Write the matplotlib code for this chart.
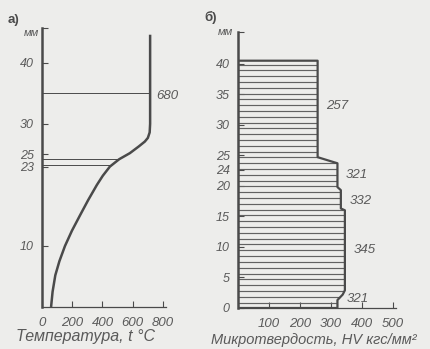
import numpy as np
import matplotlib
matplotlib.use("Agg")
import matplotlib.pyplot as plt

# a) temperature along the depth
depth_t = [0, 2.5, 5.2, 7.5, 10, 12.5, 15, 17.5, 20, 21.5, 23, 24.2, 25.2, 26.3,
           27.1, 27.7, 28.6, 30, 35, 40, 44.6]
temp = [60, 70, 88, 115, 152, 198, 251, 305, 363, 402, 449, 510, 581, 640,
        680, 700, 712, 715, 715, 715, 715]
t_marks = [35, 24.2, 23.2]          # horizontal guide lines, mm
t_label = "680"
t_xticks = [0, 200, 400, 600, 800]
t_yticks = [10, 23, 25, 30, 40]

# b) micro-hardness profile (from bottom up)
depth_hv = [0, 1.3, 2.2, 2.9, 16.0, 16.3, 19.3, 19.8, 23.7, 24.7, 40.5]
hv = [321, 321, 338, 345, 345, 332, 332, 321, 321, 257, 257]
hv_labels = ["257", "321", "332", "345", "321"]
hv_label_y = [33, 21.7, 17.6, 9.5, 1.5]
hv_xticks = [100, 200, 300, 400, 500]
hv_ytick_pos = [0, 5, 10, 15, 20, 22.6, 25, 30, 35, 40]
hv_ytick_lab = ["0", "5", "10", "15", "20", "24", "25", "30", "35", "40"]

bg = "#ededeb"
ink = "#4a4a4a"
txt = "#5a5a5a"
plt.rcParams["font.family"] = ["Liberation Sans", "DejaVu Sans"]

W, H = 431, 349
fig = plt.figure(figsize=(W / 100, H / 100), dpi=100, facecolor=bg)


def px_axes(l, r, b, t):
    return fig.add_axes([l / W, (H - b) / H, (r - l) / W, (b - t) / H])


def style(ax):
    ax.set_facecolor("none")
    for s in ("top", "right"):
        ax.spines[s].set_visible(False)
    ax.spines["left"].set_linewidth(1.8)
    ax.spines["left"].set_color(ink)
    ax.spines["bottom"].set_linewidth(0.9)
    ax.spines["bottom"].set_color(ink)
    ax.tick_params(axis="both", direction="in", colors=ink, labelcolor=txt,
                   labelsize=9.5, length=4, width=0.8)
    ax.tick_params(axis="x", pad=7)
    ax.tick_params(axis="y", pad=6)
    for lab in ax.get_xticklabels() + ax.get_yticklabels():
        lab.set_fontstyle("italic")


# ---- panel a
ax1 = px_axes(42, 166, 307, 28)
ax1.set_xlim(0, 820)
ax1.set_ylim(0, 45.7)
ax1.plot(temp, depth_t, color=ink, lw=1.8, solid_capstyle="butt")
for m in t_marks:
    ax1.hlines(m, 0, np.interp(m, depth_t, temp), color=ink, lw=0.7)
ax1.text(755, 34.6, t_label, fontsize=9.5, color=txt, style="italic", va="center")
ax1.set_xticks(t_xticks)
ax1.set_xticklabels([str(v) for v in t_xticks])
ax1.set_yticks(t_yticks + [45.7])
ax1.set_yticklabels([str(v) for v in t_yticks] + [""])
style(ax1)
for lab in ax1.get_yticklabels():
    lab.set_fontsize(9)

# ---- panel b
ax2 = px_axes(238, 396, 308, 32)
ax2.set_xlim(0, 510)
ax2.set_ylim(0, 45.2)
for y in np.arange(0.9, 40.5, 0.95):
    ax2.hlines(y, 0, np.interp(y, depth_hv, hv) - 3, color="#626262", lw=0.85)
outline_x = [0] + hv[::-1] + [0]
outline_y = [depth_hv[-1]] + depth_hv[::-1] + [0]
ax2.plot(outline_x, outline_y, color=ink, lw=1.6)
for lab, y in zip(hv_labels, hv_label_y):
    x = np.interp(y, depth_hv, hv)
    ax2.text(x + 27, y, lab, fontsize=9.5, color=txt, style="italic", va="center")
ax2.set_xticks(hv_xticks)
ax2.set_xticklabels([str(v) for v in hv_xticks])
ax2.set_yticks(hv_ytick_pos + [45.2])
ax2.set_yticklabels(hv_ytick_lab + [""])
style(ax2)
for lab in ax2.get_yticklabels():
    lab.set_fontsize(9)

# panel letters and titles
fig.text(8 / W, 1 - 20 / H, "а)", fontsize=9.5, color=ink, weight="bold", va="center")
fig.text(24 / W, 1 - 33 / H, "мм", fontsize=8, color=txt, style="italic", va="center")
fig.text(204 / W, 1 - 17 / H, "б)", fontsize=9.5, color=ink, weight="bold", va="center")
fig.text(218 / W, 1 - 32 / H, "мм", fontsize=8, color=txt, style="italic", va="center")
fig.text(86 / W, 1 - 337 / H, "Температура, t °C", fontsize=11.5, color=txt,
         style="italic", ha="center", va="center")
fig.text(314 / W, 1 - 340 / H, "Микротвердость, HV кгс/мм²", fontsize=10.5,
         color=txt, style="italic", ha="center", va="center")

fig.savefig("out.png", dpi=100, facecolor=bg)
